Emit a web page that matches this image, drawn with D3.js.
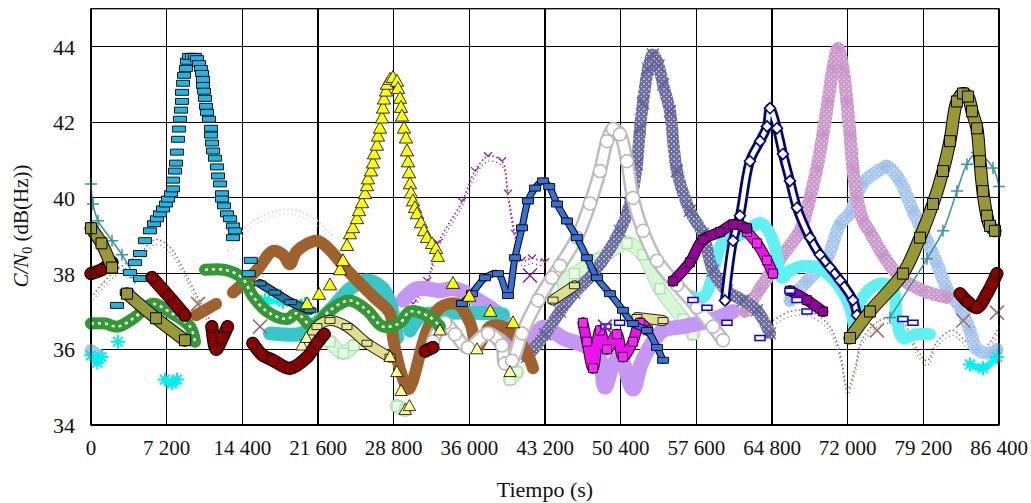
<!DOCTYPE html>
<html><head><meta charset="utf-8">
<script src="https://cdn.jsdelivr.net/npm/d3@7"></script>
<style>
html,body{margin:0;padding:0;background:#fff;}
svg{display:block;}
text{font-family:"Liberation Serif","Times New Roman",Times,serif;fill:#111;}
</style></head>
<body>
<svg id="chart" width="1031" height="503"></svg>
<script>
// ---------- axis ticks ----------
const timeTicks = [0,7200,14400,21600,28800,36000,43200,50400,57600,64800,72000,79200,86400];
const cn0Ticks = [34,36,38,40,42,44];

// ---------- series data: arrays of segments of [time (s), C/N0 (dB-Hz)] ----------
const faintDotted = [[[13000,38.6],[15000,39.3],[17000,39.6],[19000,39.7],[21000,39.5],[23000,39.0]]];
const roseDotted = [
  [[0,37.37],[2000,38.0],[4500,38.5],[6200,38.9],[7500,38.7],[9000,38.0],[10470,37.2],[11600,36.6]],
  [[64610,36.7],[66510,37.0],[68410,37.0],[70300,36.6],[71270,35.9],[72000,34.95],[72700,35.5],[73460,36.3],[75360,36.8],[77260,36.7],[78590,36.0],[79550,35.7],[80500,36.2],[82000,36.5],[83640,36.1],[84880,36.0],[86400,36.6]]
];
const roseCross = [[[10180,37.2]],[[16080,36.6]],[[74790,36.5]],[[83000,36.76]],[[86200,36.97]]];
const purpleDotted = [[[30640,37.2],[32000,37.8],[33020,38.8],[35300,39.9],[36540,40.71],[37780,41.1],[39110,40.97],[39680,40.11],[40340,39.05],[41010,38.34],[41960,38.4],[43200,38.3]]];
const purpleCross = [[[41770,37.95]],[[48910,36.6]]];
const lightGreen = [
  [[22740,36.2],[24000,35.9],[25000,36.1]],
  [[29120,34.5],[29880,34.4]],
  [[39870,35.2],[40530,35.4]],
  [[43960,37.6],[46000,38.0],[48430,38.4],[51000,38.8],[52520,38.5],[54140,37.6],[56330,36.8],[57280,36.4]]
];
const lavender = [[[29690,37.3],[31020,37.6],[33210,37.55],[34640,37.6],[36820,37.3],[39110,36.84],[40060,36.16],[40530,35.9],[41960,36.2],[43010,36.58],[44910,36.3],[48150,35.9],[48910,35.0],[49670,35.6],[50330,35.8],[51570,34.95],[52330,35.6],[53470,36.2],[54430,36.5],[56330,36.6],[58900,36.76],[61090,37.0]]];
const lightSky = [
  [[0,35.97],[700,35.85]],
  [[66510,37.29],[68130,37.8],[70030,38.4],[71270,39.3],[72220,39.6],[73460,40.4],[75360,40.79],[75740,40.84],[76980,40.45],[78210,39.66],[79550,38.87],[80500,38.26],[81450,37.6],[82690,37.11],[83640,36.5],[84300,36.0],[85540,35.9],[86210,36.0]]
];
const mauve = [[[62230,37.0],[63660,37.6],[65560,38.4],[67460,39.13],[68410,40.0],[69080,40.79],[69650,41.68],[70130,42.55],[70600,43.42],[71080,43.95],[71550,43.42],[71930,42.55],[72220,41.68],[72500,40.79],[72890,40.0],[73460,39.4],[74120,39.1],[75360,38.5],[76980,37.9],[79170,37.55],[81450,37.37]]];
const slate = [[[41490,35.8],[43200,36.4],[44630,37.0],[46000,37.5],[47770,38.0],[50330,39.13],[51290,39.84],[51950,40.89],[52240,41.84],[52520,42.5],[53000,43.4],[53470,43.79],[54000,43.5],[54430,43.0],[55090,42.29],[55760,40.71],[56990,39.66],[58230,39.05],[59180,38.08],[60520,37.55],[62040,37.29],[63370,37.03],[64610,36.42]]];
const tealBand = [
  [[17030,36.42],[18000,36.4],[20080,36.42],[22740,37.03],[24640,37.6],[26260,37.82],[27780,37.6],[28450,37.21],[29120,36.3]],
  [[30350,36.5],[31500,36.9],[33000,36.95],[36000,36.97],[39200,36.92]]
];
const aqua = [
  [[0,35.84],[600,35.65],[1000,35.8]],
  [[2570,36.2]],
  [[7040,35.2],[7700,35.1],[8180,35.2]],
  [[16560,37.3],[18270,37.25],[20360,37.2]],
  [[83640,35.6],[84880,35.5],[86210,35.8]]
];
const lightCyan = [
  [[56330,37.5],[58230,37.37],[59850,38.7],[60520,38.95],[62040,39.05],[63660,39.34],[64610,39.05],[65270,38.5],[65750,37.89],[66510,38.08],[68130,38.21],[69650,38.08],[71270,37.63],[72220,37.11],[72700,36.4]],
  [[72890,37.1],[74120,37.6],[75360,37.74],[76310,37.6],[76690,36.8],[77260,36.3],[78590,36.4],[79830,36.4]]
];
const navy = [[[60330,37.29],[61090,38.87],[61750,39.53],[62700,40.97],[63660,41.5],[64320,41.89],[64610,42.37],[65270,41.84],[65840,41.16],[66510,40.45],[67180,39.74],[68410,38.95],[69360,38.5],[70320,38.16],[71270,37.82],[72500,37.3],[72890,36.9]]];
const greyCircles = [[[32540,36.2],[33210,36.6],[33680,36.7],[34640,36.4],[35870,36.05],[37780,36.42],[39110,36.1],[39390,35.63],[40060,35.7],[41010,36.42],[42530,37.29],[43860,37.89],[44630,38.21],[46240,38.95],[47480,39.85],[48430,40.71],[49100,41.5],[49670,41.82],[50330,41.68],[51000,40.97],[51570,40.0],[52520,39.13],[53860,38.34],[55760,37.7],[57660,37.11],[59180,36.6],[60140,36.24]]];
const brown = [
  [[10000,36.9],[11900,37.2]],
  [[13510,37.5],[15800,38.1],[17320,38.6],[18270,38.5],[18930,38.25],[19600,38.6],[21500,38.87],[22450,38.7],[24360,38.1],[26830,37.4],[28450,36.95],[28740,36.3],[29590,35.3],[30200,34.95],[30540,35.1],[31970,36.5],[33210,37.1],[34830,37.2],[36060,36.7],[36730,36.05],[37300,36.3],[37970,36.6],[39200,36.6],[40530,36.3],[41490,35.9],[42060,35.5]]
];
const green = [
  [[0,36.68],[1330,36.68],[2570,36.6],[4190,36.85],[5800,37.2],[7700,36.95],[9420,36.6],[9900,36.2]],
  [[10850,38.1],[12750,38.1],[14370,37.89],[15410,37.4],[16750,37.0],[18650,36.8],[19600,36.95],[21120,36.6],[22740,37.03],[24640,37.29],[26260,37.03],[27780,36.6],[29400,36.7],[30350,37.0],[32260,36.85],[33200,36.6]]
];
const khakiRect = [
  [[20840,36.3],[21500,36.6],[22740,36.76],[24360,36.6],[26260,36.16],[28450,35.79]],
  [[43960,37.3],[46000,37.68]],
  [[51950,36.84],[54430,36.76]]
];
const paleTri = [
  [[20080,36.1],[20500,36.3]],
  [[28450,35.8],[29100,35.4],[29500,34.9],[29900,34.4],[30300,34.5]],
  [[33200,36.5],[36730,36.0],[39870,35.4]]
];
const magenta = [
  [[46810,36.7],[47190,36.2],[47770,35.5],[48430,36.5],[49100,36.0],[50050,36.4],[50620,35.8],[51570,36.2],[52230,36.7],[53000,36.5]],
  [[62420,39.1],[63370,38.8],[64320,38.35],[64890,38.0]]
];
const darkMagenta = [
  [[55380,37.8],[56990,38.3],[58230,38.9],[59850,39.1],[61090,39.3],[62420,39.2]],
  [[66510,37.55],[68130,37.3],[69650,37.0]]
];
const brightBlue = [
  [[49000,36.6],[50300,36.7]],
  [[57280,37.3],[58610,37.1],[60520,36.7],[63660,36.3]],
  [[66510,37.55],[67180,37.3],[68130,37.0]],
  [[77260,36.8],[78210,36.7]]
];
const blueRect = [[[35300,37.21],[36250,37.47],[37490,37.89],[38730,38.0],[39680,37.42],[40340,38.42],[41010,39.21],[41580,39.92],[42250,40.26],[43010,40.45],[43600,40.3],[44340,39.84],[45290,39.39],[46240,38.95],[47190,38.42],[48150,37.89],[49380,37.47],[50620,37.03],[51570,36.68],[52900,36.5],[53860,36.05],[54430,35.71]]];
const darkBlueRect = [[[16080,37.74],[17500,37.5],[19000,37.25],[20840,37.03]]];
const tealPlus = [
  [[0,40.37],[190,39.84],[670,39.4],[2000,38.87],[2950,38.5],[4190,37.9]],
  [[76020,36.84],[79550,38.39],[81070,39.13],[82400,40.18],[83350,40.89],[84300,41.2],[85830,40.79],[86400,40.3]]
];
const skyRect = [
  [[2480,37.16],[3400,37.5],[4660,37.87]],
  [[3711,38.03],[4187,38.29],[4662,38.53],[5138,38.87],[5614,39.13],[5994,39.32],[6280,39.45],[6565,39.58],[6851,39.71],[7136,39.84],[7326,39.97],[7612,40.11],[7802,40.24],[7802,40.47],[7993,40.71],[8088,40.92],[8183,41.21],[8278,41.55],[8373,41.82],[8468,42.08],[8564,42.32],[8659,42.55],[8659,42.79],[8754,43.03],[8849,43.24],[9039,43.42],[9134,43.61],[9325,43.74],[9610,43.74],[9896,43.74],[10086,43.68],[10276,43.55],[10467,43.42],[10562,43.29],[10657,43.13],[10657,42.97],[10752,42.82],[10847,42.63],[10942,42.42],[11037,42.26],[11228,42.08],[11418,41.84],[11418,41.66],[11513,41.45],[11608,41.24],[11799,41.05],[11989,40.82],[12084,40.58],[12274,40.37],[12465,40.11],[12465,39.97],[12655,39.79],[12940,39.58],[13226,39.45],[13511,39.26],[13702,39.13],[13511,38.95]],
  [[15000,38.0],[15200,38.35]]
];
const yellowTri = [
  [[20550,37.2],[21700,37.45],[22740,37.7]],
  [[23700,38.1],[23977,38.34],[24358,38.74],[24644,39.05],[24929,39.21],[25310,39.45],[25500,39.66],[25785,39.87],[26071,40.11],[26261,40.32],[26356,40.5],[26642,40.71],[26832,40.92],[26927,41.16],[27213,41.39],[27308,41.63],[27499,41.84],[27689,42.11],[27784,42.37],[27879,42.61],[28069,42.82],[28164,43.0],[28450,43.13],[28735,43.18],[29116,43.08],[29211,42.89],[29402,42.63],[29497,42.39],[29592,42.16],[29782,41.84],[29973,41.58],[30068,41.24],[30163,40.95],[30258,40.66],[30353,40.37],[30448,40.13],[30638,39.92],[30829,39.74],[31019,39.58],[31400,39.34],[31685,39.13],[31970,38.95],[32446,38.79],[32827,38.66],[33000,38.45]],
  [[34440,37.74],[36000,37.4],[38000,37.0],[40150,36.7]]
];
const darkRed = [
  [[0,38.0],[1000,38.1],[2000,38.3]],
  [[5800,37.9],[7400,37.4],[8940,36.9]],
  [[11500,36.6],[11900,36.0],[12500,36.3],[13000,36.6]],
  [[15400,36.16],[16300,35.85],[17320,35.71],[18930,35.5],[20550,35.79],[21500,36.16],[22200,36.4]],
  [[31800,35.95],[32540,36.05]],
  [[82690,37.47],[83450,37.25],[84300,37.1],[85250,37.47],[86200,38.0]]
];
const olive = [
  [[0,39.2],[1000,38.8],[2000,38.16]],
  [[3420,37.47],[6190,36.82],[8940,36.24]],
  [[72220,36.3],[74120,37.0],[77260,38.0],[78880,38.95],[80120,39.84],[81070,40.71],[81730,41.5],[82400,42.55],[82970,42.76],[83450,42.68],[83830,42.29],[84300,41.84],[84590,40.97],[84870,40.18],[85250,39.53],[85540,39.26],[86020,39.13]]
];

// ---------- styles (drawing order bottom → top) ----------
const layers = [
  {data: faintDotted, dotted:"#e6d2d2", dw:2},
  {data: roseDotted, dotted:"#a06a6a", dw:1.6},
  {data: purpleDotted, dotted:"#99189a", dw:1.6, marker:"arrow", mstroke:"#99189a", size:4, sw:1.2},
  {data: lightGreen, band:"#d6f8d6", bw:12, outline:"#a8e4a8", marker:"square", fill:"#e6ffe6", mstroke:"#99dd99", size:10, sw:1},
  {data: lavender, band:"#c596f3", bw:15},
  {data: lightSky, band:"url(#pSky)", bw:13, marker:"star", mstroke:"#9cc0ea", size:6, sw:1.2},
  {data: mauve, band:"url(#pMauve)", bw:13, marker:"star", mstroke:"#c894c8", size:6, sw:1.2},
  {data: tealBand, band:"#36c8c8", bw:14},
  {data: aqua, band:"#00ffff", bw:7, marker:"star", mstroke:"#00eeee", size:7, sw:2},
  {data: lightCyan, band:"#5ef3f3", bw:12},
  {data: slate, band:"url(#pSlate)", bw:12, marker:"x", mstroke:"#5f5f95", size:6, sw:1.3},
  {data: navy, band:"#000080", bw:10, inner:"#ffffff", iw:4.5, marker:"diamond", fill:"#fff", mstroke:"#000080", size:5.5, sw:1.6},
  {data: brown, band:"#a0622d", bw:12},
  {data: greyCircles, band:"#bdbdbd", bw:14, inner:"#ffffff", iw:9, marker:"circle", fill:"#fff", mstroke:"#b5b5b5", size:6.5, sw:1.5},
  {data: green, band:"#339933", bw:12, dash:"#ffffff"},
  {data: khakiRect, band:"#e0e08a", bw:9, outline:"#222", marker:"rect", w:10, h:6, fill:"#e8e890", mstroke:"#000", sw:0.8},
  {data: paleTri, marker:"tri", fill:"#ffff99", mstroke:"#000", size:6.5, sw:0.8},
  {data: magenta, band:"#ee11ee", bw:9, outline:"#000", marker:"square", fill:"#ff22ff", mstroke:"#000", size:9, sw:0.8},
  {data: darkMagenta, band:"#990099", bw:9, outline:"#000", marker:"square", fill:"#990099", mstroke:"#000", size:9, sw:0.8},
  {data: brightBlue, marker:"rect", w:10, h:5, fill:"#fff", mstroke:"#0000ff", sw:1.5},
  {data: blueRect, band:"#3370d8", bw:5, outline:"#000", marker:"rect", w:11, h:6, fill:"#3370d8", mstroke:"#000", sw:0.9},
  {data: darkBlueRect, band:"#1f7aa6", bw:7, outline:"#000", marker:"rect", w:12, h:5, fill:"#2585b5", mstroke:"#000", sw:0.8},
  {data: tealPlus, band:"#339999", bw:1.5, marker:"plus", mstroke:"#339999", size:6, sw:1.5},
  {data: roseCross, marker:"x", mstroke:"#a06a6a", size:7, sw:1.5},
  {data: purpleCross, marker:"x", mstroke:"#99189a", size:7, sw:1.5},
  {data: skyRect, marker:"rect", w:13, h:6, fill:"#1fb6e6", mstroke:"#000", sw:0.9},
  {data: yellowTri, marker:"tri", fill:"#ffff00", mstroke:"#000", size:7, sw:0.8},
  {data: darkRed, band:"#8b0000", bw:11, outline:"#000", marker:"circle", fill:"#8b0000", mstroke:"#000", size:6, sw:0.8},
  {data: olive, band:"#999933", bw:11, outline:"#000", marker:"square", fill:"#999933", mstroke:"#000", size:11, sw:1}
];

// ---------- chart ----------
const svg = d3.select("#chart");
const x = d3.scaleLinear().domain([0, 86400]).range([91, 999]);
const y = d3.scaleLinear().domain([34, 45]).range([425, 8.7]);

// texture patterns for the asterisk-marker bands
const defs = svg.append("defs");
[["pSlate","#6d6da5","#ffffff"],["pMauve","#cc9acc","#f4e6f4"],["pSky","#a6c7ee","#eef4fc"]].forEach(([id, c, spec]) => {
  const p = defs.append("pattern").attr("id", id).attr("patternUnits","userSpaceOnUse")
    .attr("width", 5).attr("height", 5);
  p.append("rect").attr("width", 5).attr("height", 5).attr("fill", c);
  p.append("path").attr("d","M1,1L2,2M2,1L1,2M3.5,3.5L4.5,4.5M4.5,3.5L3.5,4.5")
    .attr("stroke", spec).attr("stroke-width", 0.9);
});

// grid
const g = svg.append("g");
g.selectAll("line.v").data(timeTicks).join("line")
  .attr("x1", d => x(d)).attr("x2", d => x(d))
  .attr("y1", y(34)).attr("y2", y(45))
  .attr("stroke", "#000").attr("stroke-width", 1.1).attr("shape-rendering","crispEdges");
g.selectAll("line.h").data(cn0Ticks).join("line")
  .attr("x1", x(0)).attr("x2", x(86400))
  .attr("y1", d => y(d)).attr("y2", d => y(d))
  .attr("stroke", "#000").attr("stroke-width", 1.1).attr("shape-rendering","crispEdges");

const line = d3.line().x(d => x(d[0])).y(d => y(d[1])).curve(d3.curveCatmullRom.alpha(0.5));

function markerPath(L) {
  const s = L.size || 6;
  switch (L.marker) {
    case "rect": { const w = L.w, h = L.h; return `M${-w/2},${-h/2}h${w}v${h}h${-w}Z`; }
    case "square": return `M${-s/2},${-s/2}h${s}v${s}h${-s}Z`;
    case "circle": return `M${-s},0a${s},${s} 0 1,0 ${2*s},0a${s},${s} 0 1,0 ${-2*s},0Z`;
    case "tri": return `M0,${-s}L${s*0.95},${s*0.7}L${-s*0.95},${s*0.7}Z`;
    case "diamond": return `M0,${-s}L${s},0L0,${s}L${-s},0Z`;
    case "plus": return `M${-s},0H${s}M0,${-s}V${s}`;
    case "x": return `M${-s},${-s}L${s},${s}M${s},${-s}L${-s},${s}`;
    case "star": return `M${-s},0H${s}M0,${-s}V${s}M${-s*0.7},${-s*0.7}L${s*0.7},${s*0.7}M${s*0.7},${-s*0.7}L${-s*0.7},${s*0.7}`;
    case "arrow": return `M${-s},${-s}L0,0L${s},${-s}`;
  }
  return "";
}

const plot = svg.append("g");
layers.forEach(L => {
  const lg = plot.append("g");
  L.data.forEach(seg => {
    if (L.dotted) {
      lg.append("path").attr("d", line(seg)).attr("fill","none")
        .attr("stroke", L.dotted).attr("stroke-width", L.dw).attr("stroke-dasharray","1.5,2.5");
      lg.append("path").attr("d", line(seg)).attr("fill","none").attr("transform","translate(0,5)")
        .attr("stroke", L.dotted).attr("stroke-width", L.dw*0.8).attr("stroke-dasharray","1,3");
    }
    if (L.band && seg.length > 1) {
      if (L.outline) {
        lg.append("path").attr("d", line(seg)).attr("fill","none")
          .attr("stroke", L.outline).attr("stroke-width", L.bw + 2)
          .attr("stroke-linecap","round").attr("stroke-linejoin","round");
      }
      lg.append("path").attr("d", line(seg)).attr("fill","none")
        .attr("stroke", L.band).attr("stroke-width", L.bw)
        .attr("stroke-linecap","round").attr("stroke-linejoin","round");
      if (L.inner) {
        lg.append("path").attr("d", line(seg)).attr("fill","none")
          .attr("stroke", L.inner).attr("stroke-width", L.iw)
          .attr("stroke-linecap","round").attr("stroke-linejoin","round");
      }
      if (L.dash) {
        lg.append("path").attr("d", line(seg)).attr("fill","none")
          .attr("stroke", L.dash).attr("stroke-width", 2.5).attr("stroke-dasharray","3,4");
      }
    }
    if (L.marker) {
      lg.selectAll(null).data(seg).join("path")
        .attr("transform", d => `translate(${x(d[0])},${y(d[1])})`)
        .attr("d", markerPath(L))
        .attr("fill", (L.marker === "plus" || L.marker === "x" || L.marker === "star" || L.marker === "arrow") ? "none" : L.fill)
        .attr("stroke", L.mstroke).attr("stroke-width", L.sw);
    }
  });
});

// frame
svg.append("rect").attr("x", x(0)).attr("y", y(45))
  .attr("width", x(86400) - x(0)).attr("height", y(34) - y(45))
  .attr("fill","none").attr("stroke","#000").attr("stroke-width",1.3);

// tick labels
const fmt = d => { const s = String(d); return s.length > 3 ? s.slice(0, s.length-3) + " " + s.slice(-3) : s; };
svg.append("g").selectAll("text").data(timeTicks).join("text")
  .attr("x", d => x(d)).attr("y", 455).attr("text-anchor","middle")
  .attr("font-family","Liberation Serif").attr("font-size", 21).text(fmt);
svg.append("g").selectAll("text").data(cn0Ticks).join("text")
  .attr("x", 75).attr("y", d => y(d) + 8).attr("text-anchor","end")
  .attr("font-family","Liberation Serif").attr("font-size", 22).text(d => d);

// axis titles
svg.append("text").attr("x", 545).attr("y", 497).attr("text-anchor","middle")
  .attr("font-family","Liberation Serif").attr("font-size", 22).text("Tiempo (s)");
const yt = svg.append("text").attr("transform","translate(28,226) rotate(-90)")
  .attr("font-family","Liberation Serif").attr("text-anchor","middle").attr("font-size", 21);
yt.append("tspan").attr("font-style","italic").text("C/N");
yt.append("tspan").attr("font-size", 14).attr("dy", 4).text("0");
yt.append("tspan").attr("dy", -4).text(" (dB(Hz))");
</script>
</body></html>
